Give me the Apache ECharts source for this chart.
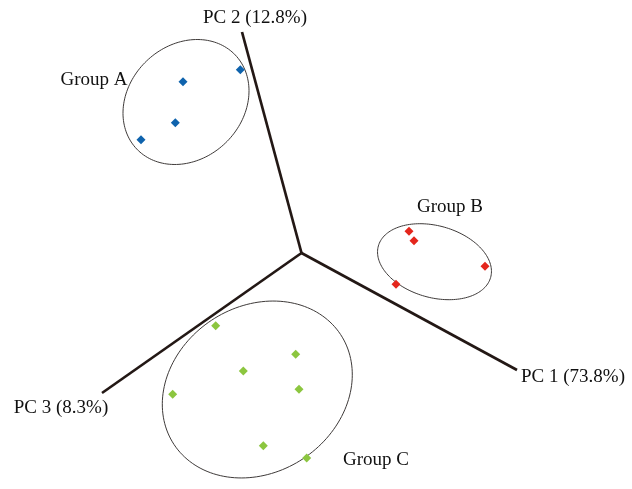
<!DOCTYPE html>
<html>
<head>
<meta charset="utf-8">
<script src="https://cdn.jsdelivr.net/npm/echarts@6/dist/echarts.min.js"></script>
<style>
  html, body { margin: 0; padding: 0; background: #ffffff; }
  #chart { width: 632px; height: 489px; }
</style>
</head>
<body>
<div id="chart"></div>
<script>
// Projected PCA scores (plot units, origin at the axis junction)
const axisNames = ['PC 1 (73.8%)', 'PC 2 (12.8%)', 'PC 3 (8.3%)'];
const axisEnds = [[21.55, -11.7], [-5.95, 22.1], [-19.95, -14.0]];

const groupNames = ['Group A', 'Group B', 'Group C'];
const groupA = [[-6.12, 18.33], [-11.85, 17.13], [-12.62, 13.03], [-16.05, 11.33]];
const groupB = [[10.75, 2.17], [11.25, 1.23], [18.35, -1.33], [9.45, -3.13]];
const groupC = [[-8.58, -7.27], [-0.58, -10.13], [-5.82, -11.8], [-12.88, -14.13],
                [-0.25, -13.63], [-3.82, -19.27], [0.52, -20.5]];

// Confidence ellipses: centre x, centre y, semi-axis a, semi-axis b, rotation (deg)
const ellipseA = [-11.55, 15.1, 6.81, 5.69, 43.7];
const ellipseB = [13.3, -0.87, 5.83, 3.59, -15.7];
const ellipseC = [-4.42, -13.65, 9.98, 8.3, 33.5];

const groupColors = ['#0f63ad', '#e4261c', '#8cc63f'];
const groupLabelOffsets = [[-92, -21.5], [15.5, -54.7], [118.7, 70.5]];
const axisLabelPlacement = [
  { position: [4, 7], align: 'left' },
  { position: [13, -14], align: 'center' },
  { position: [-41, 15], align: 'center' }
];

const FONT = '"Liberation Serif", "Times New Roman", serif';
const chart = echarts.init(document.getElementById('chart'), null, { renderer: 'canvas' });

const axisLineSeries = axisEnds.map((end, i) => ({
  type: 'line',
  name: axisNames[i],
  data: [[0, 0], end],
  symbol: 'none',
  silent: true,
  z: 1,
  lineStyle: { color: '#231815', width: 2.7 },
  animation: false
}));

const axisLabelSeries = {
  type: 'scatter',
  symbolSize: 0,
  silent: true,
  z: 4,
  itemStyle: { opacity: 1 },
  data: axisEnds.map((end, i) => ({
    value: end,
    name: axisNames[i],
    label: {
      show: true,
      formatter: axisNames[i],
      position: axisLabelPlacement[i].position,
      align: axisLabelPlacement[i].align,
      verticalAlign: 'middle',
      fontFamily: FONT,
      fontSize: 19,
      color: '#111111'
    }
  })),
  animation: false
};

const ellipseSeries = {
  type: 'custom',
  silent: true,
  z: 2,
  data: [ellipseA, ellipseB, ellipseC],
  renderItem: function (params, api) {
    const cx = api.value(0), cy = api.value(1);
    const a = api.value(2), b = api.value(3);
    const th = api.value(4) * Math.PI / 180;
    const pts = [];
    const n = 160;
    for (let k = 0; k < n; k++) {
      const t = 2 * Math.PI * k / n;
      const x = cx + a * Math.cos(t) * Math.cos(th) - b * Math.sin(t) * Math.sin(th);
      const y = cy + a * Math.cos(t) * Math.sin(th) + b * Math.sin(t) * Math.cos(th);
      pts.push(api.coord([x, y]));
    }
    const c = api.coord([cx, cy]);
    const off = groupLabelOffsets[params.dataIndex];
    return {
      type: 'group',
      children: [
        {
          type: 'polygon',
          shape: { points: pts },
          style: { fill: 'none', stroke: '#3e3a39', lineWidth: 1 }
        },
        {
          type: 'text',
          x: c[0] + off[0],
          y: c[1] + off[1],
          style: {
            text: groupNames[params.dataIndex],
            fontFamily: FONT,
            fontSize: 19,
            fill: '#111111',
            align: 'center',
            verticalAlign: 'middle'
          }
        }
      ]
    };
  },
  animation: false
};

const pointSeries = [groupA, groupB, groupC].map((pts, i) => ({
  type: 'scatter',
  name: groupNames[i],
  data: pts,
  symbol: 'diamond',
  symbolSize: 9,
  z: 3,
  itemStyle: { color: groupColors[i], opacity: 1 },
  animation: false
}));

chart.setOption({
  backgroundColor: '#ffffff',
  grid: { left: 0, right: 0, top: 0, bottom: 0 },
  xAxis: { type: 'value', min: -30.15, max: 33.05, show: false },
  yAxis: { type: 'value', min: -23.6, max: 25.3, show: false },
  series: [...axisLineSeries, ellipseSeries, ...pointSeries, axisLabelSeries]
});
</script>
</body>
</html>
